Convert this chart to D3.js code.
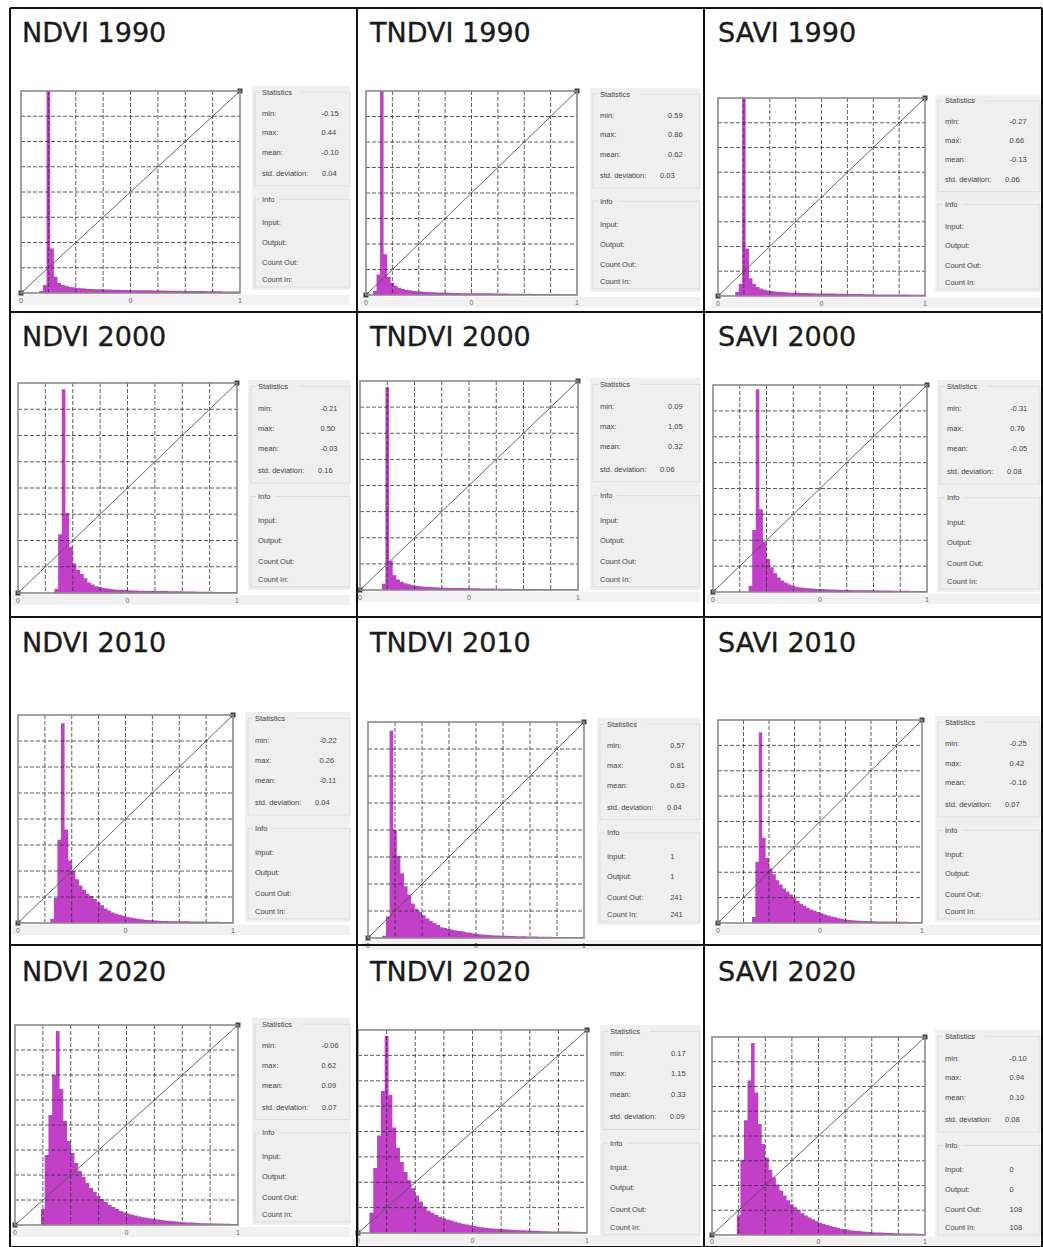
<!DOCTYPE html>
<html>
<head>
<meta charset="utf-8">
<script src="https://cdn.jsdelivr.net/npm/d3@7"></script>
<style>
  html, body { margin: 0; padding: 0; background: #fff; }
  svg { display: block; }
</style>
</head>
<body>
<svg id="chart" width="1043" height="1247"></svg>
<script>
// Vegetation index histograms, one panel per index and year
const indices = ["NDVI", "TNDVI", "SAVI"];
const years = [1990, 2000, 2010, 2020];

// Histogram bin heights (percent of the tallest bin), 60 bins over the display range
const hist_NDVI_1990 = [0,0,0,0,0,1,4,100,22,8,5,4,3.5,3,2.8,2.5,2.3,2.2,2,2,1.9,1.8,1.8,1.7,1.7,1.6,1.6,1.5,1.5,1.5,1.4,1.4,1.4,1.3,1.3,1.3,1.2,1.2,1.2,1.2,1.1,1.1,1.1,1.1,1,1,1,1,1,1,1,0.9,0.9,0.9,0.9,0.8,0.8,0.8,0.8,0.7];
const hist_TNDVI_1990 = [0,0,2,10,100,20,9,6,4.5,3.5,3,2.6,2.3,2,1.8,1.7,1.6,1.5,1.4,1.3,1.2,1.2,1.1,1.1,1,1,1,0.9,0.9,0.9,0.9,0.8,0.8,0.8,0.8,0.8,0.7,0.7,0.7,0.7,0.7,0.6,0.6,0.6,0.6,0.6,0.6,0.5,0.5,0.5,0.5,0.5,0.5,0.5,0.4,0.4,0.4,0.4,0.4,0.4];
const hist_SAVI_1990 = [0,0,0,0,0,2,6,100,24,9,6,4.5,3.8,3.2,2.8,2.5,2.3,2.1,2,1.9,1.8,1.7,1.6,1.6,1.5,1.5,1.4,1.4,1.3,1.3,1.3,1.2,1.2,1.2,1.1,1.1,1.1,1,1,1,1,1,0.9,0.9,0.9,0.9,0.8,0.8,0.8,0.8,0.8,0.7,0.7,0.7,0.7,0.7,0.6,0.6,0.6,0.6];
const hist_NDVI_2000 = [0,0,0,0,0,0,0,0,0,0,2,28,97,38,22,14,11,9,7,5,4,3.2,2.8,2.4,2.1,1.9,1.7,1.6,1.5,1.4,1.3,1.2,1.2,1.1,1.1,1,1,1,0.9,0.9,0.9,0.8,0.8,0.8,0.8,0.7,0.7,0.7,0.7,0.6,0.6,0.6,0.6,0.6,0.5,0.5,0.5,0.5,0.5,0.5];
const hist_TNDVI_2000 = [0,0,0,0,0,0,3,97,14,7,5,4,3.2,2.7,2.3,2,1.8,1.6,1.5,1.4,1.3,1.2,1.1,1.1,1,1,0.9,0.9,0.9,0.8,0.8,0.8,0.8,0.7,0.7,0.7,0.7,0.6,0.6,0.6,0.6,0.6,0.5,0.5,0.5,0.5,0.5,0.5,0.5,0.4,0.4,0.4,0.4,0.4,0.4,0.4,0.4,0.3,0.3,0.3];
const hist_SAVI_2000 = [0,0,0,0,0,0,0,0,0,0,3,30,98,40,24,16,12,9,7,5.5,4.5,3.6,3,2.5,2.2,2,1.8,1.7,1.6,1.5,1.4,1.3,1.2,1.2,1.1,1.1,1,1,1,0.9,0.9,0.9,0.8,0.8,0.8,0.8,0.7,0.7,0.7,0.7,0.6,0.6,0.6,0.6,0.6,0.5,0.5,0.5,0.5,0.5];
const hist_NDVI_2010 = [0,0,0,0,0,0,0,0,0,2,12,40,96,45,30,25,21,18,16,14,13,11.5,10,8.5,7,6,5,4.5,4,3.5,3,2.6,2.3,2,1.8,1.6,1.4,1.3,1.2,1.1,1,1,0.9,0.9,0.9,0.8,0.8,0.8,0.7,0.7,0.7,0.7,0.6,0.6,0.6,0.6,0.5,0.5,0.5,0.5];
const hist_TNDVI_2010 = [0,0,0,0,1,10,96,50,38,30,24,20,16,13.5,12,10.5,9,8,7,6,5,4.6,4.2,3.8,3.5,3.2,3,2.7,2.4,2.1,1.8,1.6,1.5,1.4,1.3,1.2,1.1,1,1,0.9,0.9,0.8,0.8,0.8,0.7,0.7,0.7,0.6,0.6,0.6,0.6,0.5,0.5,0.5,0.5,0.5,0.4,0.4,0.4,0.4];
const hist_SAVI_2010 = [0,0,0,0,0,0,0,0,0,0,3,30,94,42,32,27,24,21,19,17,15.5,14,12.5,11,9.5,8.5,7.5,6.7,6,5.4,4.8,4.2,3.7,3.2,2.8,2.4,2,1.7,1.5,1.3,1.2,1.1,1,1,0.9,0.9,0.8,0.8,0.8,0.7,0.7,0.7,0.6,0.6,0.6,0.6,0.5,0.5,0.5,0.5];
const hist_NDVI_2020 = [0,0,0,0,0,0,0,8,35,55,75,97,68,52,42,36,31,27,24,21,18.5,16.5,14.5,13,11.5,10,9,8,7,6.4,5.8,5.3,4.8,4.2,3.9,3.6,3.3,3,2.7,2.5,2.3,2.1,1.9,1.7,1.5,1.4,1.3,1.2,1.1,1,0.9,0.9,0.8,0.8,0.7,0.7,0.6,0.6,0.5,0.5];
const hist_TNDVI_2020 = [0,0,0,10,32,48,70,97,68,52,42,35,30,26,22,18.5,15.5,13,11,10,9,8,7.3,6.7,6.1,5.6,5.1,4.6,4.2,3.8,3.4,3.1,2.8,2.6,2.4,2.2,2.1,2,1.8,1.7,1.6,1.5,1.4,1.3,1.2,1.1,1.05,1,0.9,0.9,0.8,0.8,0.8,0.7,0.7,0.7,0.6,0.6,0.5,0.5];
const hist_SAVI_2020 = [0,0,0,0,0,0,0,10,38,58,78,97,72,56,46,39,33,29,25.5,22.5,20,17.5,15.5,14,12.5,11,9.8,8.8,7.9,7.1,6.2,5.6,5,4.5,4,3.6,3.2,2.9,2.6,2.3,2.1,2,1.8,1.6,1.5,1.3,1.2,1.2,1.1,1,1,0.9,0.9,0.8,0.8,0.7,0.7,0.6,0.6,0.5];

// Panel order: row by row (year), then NDVI, TNDVI, SAVI
const histograms = [
  hist_NDVI_1990, hist_TNDVI_1990, hist_SAVI_1990,
  hist_NDVI_2000, hist_TNDVI_2000, hist_SAVI_2000,
  hist_NDVI_2010, hist_TNDVI_2010, hist_SAVI_2010,
  hist_NDVI_2020, hist_TNDVI_2020, hist_SAVI_2020
];

// Statistics shown beside each histogram
const statMin  = ["-0.15", "0.59", "-0.27", "-0.21", "0.09", "-0.31", "-0.22", "0.57", "-0.25", "-0.06", "0.17", "-0.10"];
const statMax  = ["0.44", "0.86", "0.66", "0.50", "1.05", "0.76", "0.26", "0.81", "0.42", "0.62", "1.15", "0.94"];
const statMean = ["-0.10", "0.62", "-0.13", "-0.03", "0.32", "-0.05", "-0.11", "0.63", "-0.16", "0.09", "0.33", "0.10"];
const statStd  = ["0.04", "0.03", "0.06", "0.16", "0.06", "0.08", "0.04", "0.04", "0.07", "0.07", "0.09", "0.08"];
const infoInput    = ["", "", "", "", "", "", "", "1", "", "", "", "0"];
const infoOutput   = ["", "", "", "", "", "", "", "1", "", "", "", "0"];
const infoCountOut = ["", "", "", "", "", "", "", "241", "", "", "", "108"];
const infoCountIn  = ["", "", "", "", "", "", "", "241", "", "", "", "108"];

const statLabels = ["min:", "max:", "mean:", "std. deviation:"];
const infoLabels = ["Input:", "Output:", "Count Out:", "Count In:"];
const axisLabels = ["0", "0", "1"];

// ---- layout (pixel geometry of the table cells) ----
const colEdges = [10, 357, 704, 1042];
const rowEdges = [8, 312, 617, 945, 1247];
const titleX = [22, 370, 718];
const titleBase = [42, 346, 652, 981];

// plot box [x0, y0, x1, y1] and statistics box [x0, y0, x1, y1] per panel
const panels = [
  { plot: [21, 91, 240, 293],    stats: [252, 86, 350, 290] },
  { plot: [366, 91, 577, 295],   stats: [590, 88, 700, 292] },
  { plot: [718, 98, 925, 296],   stats: [935, 95, 1040, 292] },
  { plot: [18, 383, 237, 593],   stats: [248, 380, 350, 590] },
  { plot: [360, 381, 578, 590],  stats: [590, 378, 700, 590] },
  { plot: [713, 385, 927, 592],  stats: [937, 380, 1040, 592] },
  { plot: [18, 715, 233, 923],   stats: [245, 712, 350, 922] },
  { plot: [368, 722, 584, 938],  stats: [597, 718, 700, 925] },
  { plot: [718, 720, 922, 923],  stats: [935, 716, 1040, 922] },
  { plot: [15, 1025, 238, 1225], stats: [252, 1018, 350, 1225] },
  { plot: [358, 1030, 587, 1233],stats: [600, 1025, 700, 1238] },
  { plot: [712, 1037, 925, 1235],stats: [935, 1030, 1040, 1238] }
];

const svg = d3.select("#chart");
const smallFont = "'Liberation Sans', Arial, sans-serif";

panels.forEach((p, k) => {
  const row = Math.floor(k / 3), col = k % 3;
  const g = svg.append("g");
  const [px0, py0, px1, py1] = p.plot;
  const [sx0, sy0, sx1, sy1] = p.stats;

  // title
  g.append("text")
    .attr("x", titleX[col]).attr("y", titleBase[row])
    .attr("font-family", "'DejaVu Sans', Verdana, sans-serif")
    .attr("font-size", 27).attr("fill", "#1a1a1a")
    .attr("stroke", "#1a1a1a").attr("stroke-width", 0.35)
    .text(`${indices[col]} ${years[row]}`);

  // gray strip below the plot carrying the range labels
  const stripH = Math.min(10, 1246 - (py1 + 2));
  g.append("rect")
    .attr("x", px0 - 6).attr("y", py1 + 2)
    .attr("width", sx1 - px0 + 6).attr("height", stripH)
    .attr("fill", "#f1f1f1");

  const data = histograms[k];
  const x = d3.scaleLinear().domain([0, data.length]).range([px0, px1]);
  const y = d3.scaleLinear().domain([0, 100]).range([py1, py0]);
  const grid = d3.scaleLinear().domain([0, 8]).range([0, 1]);

  // plot background
  g.append("rect")
    .attr("x", px0).attr("y", py0)
    .attr("width", px1 - px0).attr("height", py1 - py0)
    .attr("fill", "#fff");

  // histogram as one stepped area (no seams between bins)
  const steps = data.map((d, i) => [i, d]).concat([[data.length, data[data.length - 1]]]);
  const area = d3.area()
    .x(d => x(d[0]))
    .y0(y(0))
    .y1(d => y(d[1]))
    .curve(d3.curveStepAfter);
  g.append("path")
    .datum(steps)
    .attr("d", area)
    .attr("fill", "#c23fc8");

  // dashed 8x8 grid
  const gridVals = d3.range(1, 8);
  g.append("g").selectAll("line.v")
    .data(gridVals).join("line")
    .attr("x1", d => px0 + grid(d) * (px1 - px0))
    .attr("x2", d => px0 + grid(d) * (px1 - px0))
    .attr("y1", py0).attr("y2", py1)
    .attr("stroke", "#333").attr("stroke-width", 0.8)
    .attr("stroke-dasharray", "4,2");
  g.append("g").selectAll("line.h")
    .data(gridVals).join("line")
    .attr("y1", d => py0 + grid(d) * (py1 - py0))
    .attr("y2", d => py0 + grid(d) * (py1 - py0))
    .attr("x1", px0).attr("x2", px1)
    .attr("stroke", "#333").attr("stroke-width", 0.8)
    .attr("stroke-dasharray", "4,2");

  // transfer line
  g.append("line")
    .attr("x1", px0).attr("y1", py1).attr("x2", px1).attr("y2", py0)
    .attr("stroke", "#555").attr("stroke-width", 0.9);
  [[px0, py1], [px1, py0]].forEach(([cx, cy]) => {
    g.append("rect")
      .attr("x", cx - 2.5).attr("y", cy - 2.5)
      .attr("width", 5).attr("height", 5)
      .attr("fill", "#444");
  });

  // plot frame
  g.append("rect")
    .attr("x", px0).attr("y", py0)
    .attr("width", px1 - px0).attr("height", py1 - py0)
    .attr("fill", "none").attr("stroke", "#8a8a8a").attr("stroke-width", 1.6);

  // range labels
  [px0, (px0 + px1) / 2, px1].forEach((lx, i) => {
    g.append("text")
      .attr("x", lx).attr("y", Math.min(py1 + 10, 1244))
      .attr("text-anchor", "middle")
      .attr("font-family", smallFont).attr("font-size", 7).attr("fill", "#666")
      .text(axisLabels[i]);
  });

  // statistics panel
  const sh = sy1 - sy0;
  const fy = f => sy0 + f * sh;
  g.append("rect")
    .attr("x", sx0).attr("y", sy0)
    .attr("width", sx1 - sx0).attr("height", sh)
    .attr("fill", "#efefef");
  // group boxes
  g.append("rect")
    .attr("x", sx0 + 3).attr("y", fy(0.03))
    .attr("width", sx1 - sx0 - 3).attr("height", fy(0.49) - fy(0.03))
    .attr("fill", "none").attr("stroke", "#dcdcdc").attr("stroke-width", 1);
  g.append("rect")
    .attr("x", sx0 + 3).attr("y", fy(0.555))
    .attr("width", sx1 - sx0 - 3).attr("height", fy(0.985) - fy(0.555))
    .attr("fill", "none").attr("stroke", "#dcdcdc").attr("stroke-width", 1);

  const lx = sx0 + 10;
  const vx = sx0 + (sx1 - sx0) * 0.71;
  const txt = (tx, ty, s, anchor) => g.append("text")
    .attr("x", tx).attr("y", ty)
    .attr("text-anchor", anchor || "start")
    .attr("font-family", smallFont).attr("font-size", 7.5).attr("fill", "#444")
    .text(s);

  // group captions sit on the box line
  [["Statistics", 0.03], ["Info", 0.555]].forEach(([s, f]) => {
    const w = s.length * 3.8 + 4;
    g.append("rect").attr("x", lx - 2).attr("y", fy(f) - 1.5)
      .attr("width", w).attr("height", 3).attr("fill", "#efefef");
    txt(lx, fy(f) + 2.5, s);
  });

  const statVals = [statMin[k], statMax[k], statMean[k], statStd[k]];
  const statY = [0.135, 0.23, 0.325, 0.43];
  statLabels.forEach((s, i) => {
    txt(lx, fy(statY[i]) + 2.5, s);
    const valX = i === 3 ? lx + 60 : vx;
    txt(valX, fy(statY[i]) + 2.5, statVals[i]);
  });

  const infoVals = [infoInput[k], infoOutput[k], infoCountOut[k], infoCountIn[k]];
  const infoY = [0.67, 0.765, 0.865, 0.95];
  infoLabels.forEach((s, i) => {
    txt(lx, fy(infoY[i]) + 2.5, s);
    if (infoVals[i]) txt(vx, fy(infoY[i]) + 2.5, infoVals[i]);
  });
});

// table rules
const rules = svg.append("g").attr("stroke", "#111").attr("stroke-width", 2);
colEdges.forEach(cx => rules.append("line")
  .attr("x1", cx).attr("x2", cx).attr("y1", rowEdges[0]).attr("y2", rowEdges[rowEdges.length - 1]));
rowEdges.forEach(ry => rules.append("line")
  .attr("x1", colEdges[0]).attr("x2", colEdges[colEdges.length - 1]).attr("y1", ry).attr("y2", ry));
</script>
</body>
</html>
